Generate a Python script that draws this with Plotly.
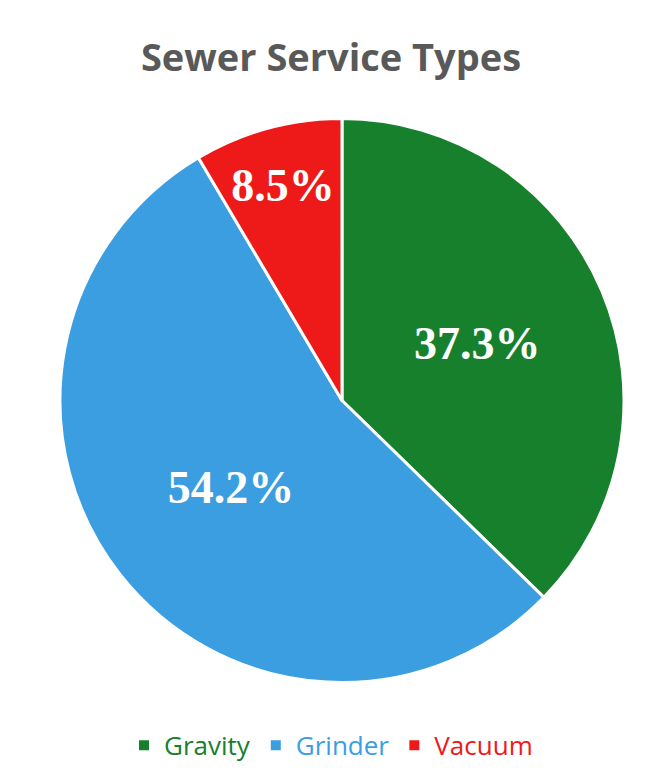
import plotly.graph_objects as go

categories = ["Gravity", "Grinder", "Vacuum"]
values = [37.3, 54.2, 8.5]
colors = ["#16802c", "#3a9ee0", "#ee1a1a"]

legend_labels = [f"<span style='color:{c}'>{n}</span>" for n, c in zip(categories, colors)]

fig = go.Figure(go.Pie(
    labels=legend_labels,
    values=values,
    sort=False,
    direction="clockwise",
    rotation=0,
    marker=dict(colors=colors, line=dict(color="white", width=3)),
    textinfo="percent",
    texttemplate="<b>%{value:.1f}%</b>",
    textposition="inside",
    insidetextorientation="horizontal",
    textfont=dict(family="Liberation Serif", size=46, color="white"),
    domain=dict(x=[0.0906, 0.9426], y=[0.1277, 0.8493]),
    hoverinfo="skip",
))

fig.update_layout(
    width=662, height=783,
    margin=dict(l=0, r=0, t=0, b=0),
    paper_bgcolor="white",
    title=dict(text="<b>Sewer Service Types</b>", x=0.5, xanchor="center", y=0.926, yanchor="middle",
               font=dict(family="Open Sans", size=38, color="#595959")),
    showlegend=True,
    legend=dict(orientation="h", x=0.5, xanchor="center", y=0.048, yanchor="middle",
                font=dict(family="Open Sans", size=26), itemsizing="constant",
                traceorder="normal"),
    uniformtext=dict(minsize=46, mode="show"),
)

fig.write_html("out.html")
